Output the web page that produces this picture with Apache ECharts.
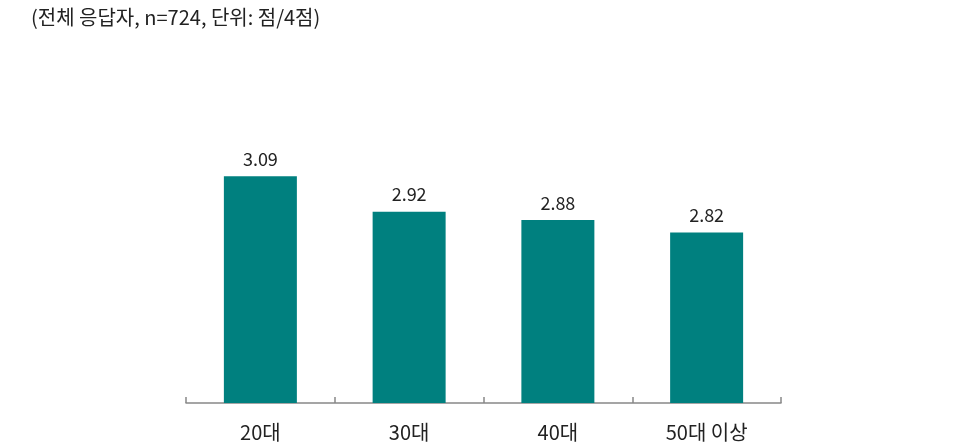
<!DOCTYPE html>
<html><head><meta charset="utf-8">
<script src="https://cdn.jsdelivr.net/npm/echarts@6/dist/echarts.min.js"></script>
<style>html,body{margin:0;padding:0;background:#fff}#c{width:961px;height:448px}</style>
</head><body><div id="c"></div>
<script>
const categories = ['20대', '30대', '40대', '50대 이상'];
const values = [3.09, 2.92, 2.88, 2.82];
const titleText = '(전체 응답자, n=724, 단위: 점/4점)';

const chart = echarts.init(document.getElementById('c'), null, {renderer: 'canvas'});
const font = '"Noto Sans CJK KR", "Noto Sans", sans-serif';
chart.setOption({
  animation: false,
  title: {
    text: titleText, left: 26, top: 2,
    textStyle: {fontFamily: font, fontSize: 20, fontWeight: 'normal', color: '#222'}
  },
  grid: {left: 186, right: 180, top: 91, bottom: 45, containLabel: false},
  xAxis: {
    type: 'category', data: categories,
    axisLine: {lineStyle: {color: '#888', width: 1.5}},
    axisTick: {show: true, inside: true, length: 6, lineStyle: {color: '#888', width: 1.5}},
    axisLabel: {fontFamily: font, fontSize: 20, color: '#222', margin: 19}
  },
  yAxis: {type: 'value', min: 2, max: 3.5, show: false, splitLine: {show: false}},
  series: [{
    type: 'bar', data: values, barWidth: 73,
    itemStyle: {color: '#00807F'},
    label: {show: true, position: 'top', distance: 8, fontFamily: font, fontSize: 18, color: '#222',
      formatter: p => p.value.toFixed(2)}
  }]
});
</script></body></html>
